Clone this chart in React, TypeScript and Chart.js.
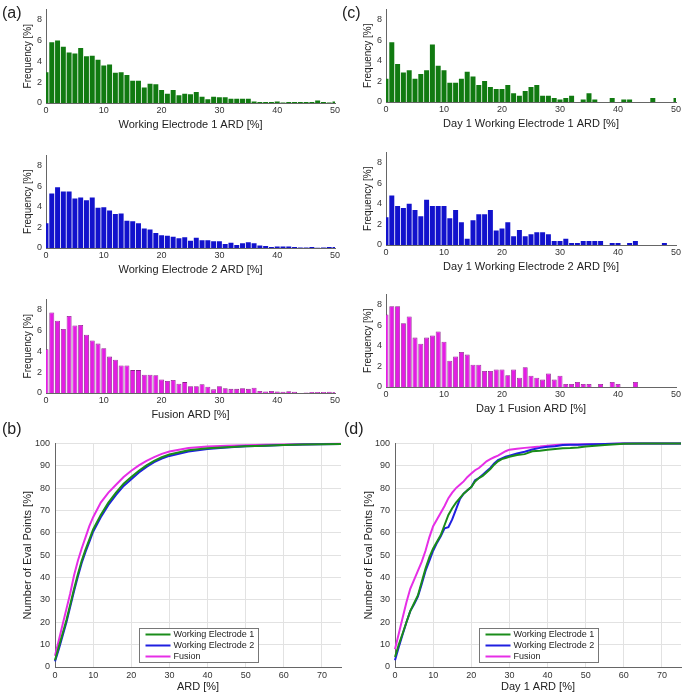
import React, { useEffect, useRef } from "react";
import { Chart, registerables } from "chart.js";

Chart.register(...registerables);
Chart.defaults.font.family = '"Liberation Sans", Arial, sans-serif';

// ---------- histogram data (bin centres 0..50 % ARD, frequency %) ----------
const binCenters = [0,1,2,3,4,5,6,7,8,9,10,11,12,13,14,15,16,17,18,19,20,21,22,23,24,25,26,27,28,29,30,31,32,33,34,35,36,37,38,39,40,41,42,43,44,45,46,47,48,49,50];

const histWE1 = [2.95,5.85,6.0,5.4,4.85,4.75,5.3,4.5,4.55,4.15,3.6,3.7,2.9,2.95,2.7,2.15,2.15,1.5,1.85,1.8,1.25,0.9,1.25,0.75,0.9,0.85,1.05,0.6,0.35,0.6,0.55,0.55,0.4,0.4,0.4,0.4,0.15,0.1,0.1,0.1,0.15,0.05,0.1,0.1,0.1,0.1,0.1,0.25,0.1,0.05,0.15];
const histWE2 = [2.4,5.3,5.9,5.5,5.5,4.8,4.9,4.65,4.9,3.9,3.95,3.65,3.3,3.35,2.65,2.6,2.4,1.9,1.8,1.45,1.25,1.2,1.1,0.95,1.05,0.7,1.0,0.75,0.75,0.65,0.65,0.4,0.5,0.3,0.45,0.55,0.45,0.25,0.2,0.1,0.15,0.15,0.15,0.1,0.05,0.05,0.1,0.03,0.05,0.1,0.1];
const histFusion = [4.2,7.75,6.95,6.15,7.4,6.5,6.55,5.6,5.05,4.75,4.3,3.5,3.2,2.65,2.65,2.2,2.2,1.75,1.75,1.7,1.3,1.15,1.25,0.9,1.05,0.65,0.65,0.85,0.6,0.35,0.65,0.45,0.4,0.4,0.45,0.4,0.5,0.2,0.15,0.2,0.15,0.12,0.18,0.12,0,0.06,0.1,0.1,0.1,0.12,0.1];
const histDay1WE1 = [2.27,5.8,3.7,2.87,3.08,2.27,2.72,3.08,5.59,3.53,3.08,1.87,1.87,2.27,2.93,2.48,1.66,2.05,1.45,1.27,1.27,1.66,0.85,0.6,1.06,1.45,1.66,0.6,0.6,0.4,0.24,0.4,0.6,0,0.24,0.85,0.24,0,0,0.4,0,0.24,0.24,0,0,0,0.4,0,0,0,0.4];
const histDay1WE2 = [2.7,4.8,3.8,3.6,4.0,3.4,2.8,4.4,3.8,3.8,3.8,2.6,3.4,2.2,0.6,2.4,3.0,3.0,3.4,1.4,1.6,2.2,0.85,1.45,0.85,1.05,1.25,1.25,1.05,0.4,0.4,0.6,0.2,0.2,0.4,0.4,0.4,0.4,0,0.2,0.2,0,0.2,0.4,0,0,0,0,0.2,0,0];
const histDay1Fusion = [7.05,7.85,7.85,6.2,6.85,4.8,4.2,4.8,5.0,5.4,4.4,2.55,2.97,3.4,3.15,2.16,2.16,1.56,1.56,1.7,1.7,1.14,1.7,0.9,1.92,1.1,0.9,0.72,1.32,0.72,1.1,0.3,0.3,0.48,0.3,0.3,0,0.3,0,0.48,0.3,0,0,0.48,0,0,0,0,0,0,0];

const histYTicks = [0, 2, 4, 6, 8];

// ---------- cumulative curves ----------
const cdfX = [0,1,2,3,4,5,6,7,8,9,10,12,14,16,18,20,22,24,26,28,30,35,40,45,50,55,60,65,70,75];
const cdfWE1 = [3,9,15,21,28,35,41.5,47.5,52.5,57,61.5,68,73.5,78,82,85,87.8,90.2,92.2,93.8,95,96.9,97.8,98.3,98.7,99,99.3,99.5,99.6,99.7];
const cdfWE2 = [2.5,8,14,20,27,34,40.5,46.5,51.5,56,60.5,67,72.5,77,81,84,87,89.5,91.6,93.2,94.4,96.4,97.5,98.2,98.7,99,99.3,99.5,99.6,99.7];
const cdfFusion = [5,12,19,26,33,41,47.5,53,58,63,67,73.5,78,81.5,85,87.8,90.2,92.2,93.9,95.3,96.4,97.9,98.6,98.9,99.2,99.4,99.5,99.6,99.7,99.8];

const day1X = [0,1,2,3,4,5,6,7,8,9,10,11,12,13,14,15,16,17,18,19,20,21,22,23,24,25,26,27,28,29,30,32,34,36,38,40,42,44,46,48,50,55,60,65,70,75];
const day1WE1 = [4.5,10,15,20,25,28.5,32,38,44,49,53,56,59,63.5,68,71,73.5,75.5,77.5,79,80.5,83,84.5,85.5,87,88.5,90.5,92,93,93.5,94,94.8,95.2,96.5,96.7,97.2,97.5,97.8,97.9,98.2,98.6,99.3,99.8,100,100,100];
const day1WE2 = [3,9,14.5,20,25,28,31.5,37,43,47.5,52,55.5,58.5,62,62.5,66,70.5,75,77.5,79,80.5,83.5,84.5,86,87.5,89,91,92.5,93.3,94,94.5,95.5,96.3,97.3,98,98.5,98.7,99.3,99.4,99.4,99.5,99.7,100,100,100,100];
const day1Fusion = [8,15,22,29,35,39,43,47,52,58,63,66,69,72,75.5,78,80,81.5,83,85,86.5,88,89,90.5,92,93,93.8,94.5,95.5,96.5,97.2,97.6,98,98.3,98.6,99,99.3,99.5,99.5,99.5,99.6,99.7,100,100,100,100];

const seriesLabels = ["Working Electrode 1", "Working Electrode 2", "Fusion"];

// ---------- styling ----------
const GREEN = "#117a11";
const BLUE = "#1212cc";
const MAGENTA = "#e41ce4";
const LINE_GREEN = "#1a8c1a";
const LINE_BLUE = "#1f1fe0";
const LINE_MAGENTA = "#e62ee6";
const TICK_COLOR = "#333";
const TITLE_COLOR = "#222";
const AXIS_COLOR = "#666";
const FONT = '"Liberation Sans", Arial, sans-serif';

function histConfig(values: number[], fill: string, border: string, bw: number, xTitle: string) {
  return {
    type: "bar",
    data: {
      datasets: [
        {
          data: binCenters.map((x, i) => ({ x, y: values[i] })),
          backgroundColor: fill,
          borderColor: border,
          borderWidth: bw,
          borderSkipped: "start",
          barPercentage: 0.86,
          categoryPercentage: 1,
          clip: 0,
        },
      ],
    },
    options: {
      responsive: false,
      animation: false,
      devicePixelRatio: 1,
      layout: { padding: { left: 0, top: 2, right: 8, bottom: 0 } },
      plugins: { legend: { display: false }, tooltip: { enabled: false } },
      scales: {
        x: {
          type: "linear",
          min: 0,
          max: 50,
          offset: false,
          grid: { display: false, drawTicks: false, offset: false },
          border: { display: true, color: AXIS_COLOR },
          ticks: { stepSize: 10, padding: 2, color: TICK_COLOR, font: { size: 9 }, maxRotation: 0 },
          title: { display: true, text: xTitle, color: TITLE_COLOR, font: { size: 11 }, padding: { top: 0, bottom: 1 } },
          afterFit: (s: any) => { s.height = 30; },
        },
        y: {
          min: 0,
          max: 9,
          grid: { display: false, drawTicks: false },
          border: { display: true, color: AXIS_COLOR },
          ticks: {
            padding: 4,
            color: TICK_COLOR,
            font: { size: 9 },
            includeBounds: false,
            stepSize: 2,
          },
          afterBuildTicks: (s: any) => { s.ticks = histYTicks.map((v) => ({ value: v })); },
          title: { display: true, text: "Frequency [%]", color: TITLE_COLOR, font: { size: 10 }, padding: { top: 7, bottom: 0 } },
          afterFit: (s: any) => { s.width = 31; },
        },
      },
    },
  };
}

const boxLegend = {
  id: "boxLegend",
  afterDraw(chart: any) {
    const { ctx, chartArea } = chart;
    const ds = chart.data.datasets;
    ctx.save();
    ctx.font = `9px ${FONT}`;
    const rowH = 11;
    const lineLen = 25;
    const tw = Math.max(...ds.map((d: any) => ctx.measureText(d.label).width));
    const w = Math.round(6 + lineLen + 3 + tw + 4);
    const h = 6 + rowH * (ds.length - 1) + 6;
    const cx = (chartArea.left + chartArea.right) / 2;
    const x0 = Math.round(cx - w / 2) + 0.5;
    const y0 = Math.round(chartArea.bottom - 5 - h) + 0.5;
    ctx.fillStyle = "#fff";
    ctx.fillRect(x0, y0, w, h);
    ctx.strokeStyle = "#777";
    ctx.lineWidth = 1;
    ctx.strokeRect(x0, y0, w, h);
    ds.forEach((d: any, i: number) => {
      const y = y0 + 6 + i * rowH;
      ctx.strokeStyle = d.borderColor;
      ctx.lineWidth = 2;
      ctx.beginPath();
      ctx.moveTo(x0 + 6, y);
      ctx.lineTo(x0 + 6 + lineLen, y);
      ctx.stroke();
      ctx.fillStyle = TITLE_COLOR;
      ctx.textBaseline = "middle";
      ctx.textAlign = "left";
      ctx.fillText(d.label, x0 + 6 + lineLen + 3, y + 0.5);
    });
    ctx.restore();
  },
};

function cdfConfig(xs: number[], a: number[], b: number[], c: number[], xTitle: string, axW: number, padR: number) {
  const mk = (label: string, ys: number[], color: string) => ({
    label,
    data: xs.map((x, i) => ({ x, y: ys[i] })),
    borderColor: color,
    backgroundColor: color,
    borderWidth: 2,
    pointRadius: 0,
    tension: 0,
    fill: false,
    clip: 2,
  });
  return {
    type: "line",
    data: {
      datasets: [
        mk(seriesLabels[0], a, LINE_GREEN),
        mk(seriesLabels[1], b, LINE_BLUE),
        mk(seriesLabels[2], c, LINE_MAGENTA),
      ],
    },
    options: {
      responsive: false,
      animation: false,
      devicePixelRatio: 1,
      layout: { padding: { left: 0, top: 8, right: padR, bottom: 0 } },
      plugins: { legend: { display: false }, tooltip: { enabled: false } },
      scales: {
        x: {
          type: "linear",
          min: 0,
          max: 75,
          grid: { color: "#e2e2e2", drawTicks: false },
          border: { display: true, color: AXIS_COLOR },
          ticks: { stepSize: 10, includeBounds: false, padding: 3, color: TICK_COLOR, font: { size: 9 }, maxRotation: 0 },
          title: { display: true, text: xTitle, color: TITLE_COLOR, font: { size: 11 }, padding: { top: 0, bottom: 0 } },
          afterFit: (s: any) => { s.height = 27; },
        },
        y: {
          min: 0,
          max: 100,
          grid: { color: "#e2e2e2", drawTicks: false },
          border: { display: true, color: AXIS_COLOR },
          ticks: { stepSize: 10, padding: 5, color: TICK_COLOR, font: { size: 9 } },
          title: { display: true, text: "Number of Eval Points [%]", color: TITLE_COLOR, font: { size: 11 }, padding: { top: 6, bottom: 0 } },
          afterFit: (s: any) => { s.width = axW; },
        },
      },
    },
    plugins: [boxLegend],
  };
}

type PanelProps = { left: number; top: number; width: number; height: number; config: any };

function Panel({ left, top, width, height, config }: PanelProps) {
  const ref = useRef<HTMLCanvasElement>(null);
  useEffect(() => {
    const chart = new Chart(ref.current as HTMLCanvasElement, config);
    return () => chart.destroy();
  }, []);
  return (
    <canvas
      ref={ref}
      width={width}
      height={height}
      style={{ position: "absolute", left, top, width, height, display: "block" }}
    />
  );
}

const letterStyle = (left: number, top: number): React.CSSProperties => ({
  position: "absolute",
  left,
  top,
  fontFamily: FONT,
  fontSize: 16,
  lineHeight: "18px",
  color: TITLE_COLOR,
});

export default function App() {
  return (
    <div
      style={{
        position: "fixed",
        left: 0,
        top: 0,
        width: 684,
        height: 694,
        overflow: "hidden",
        background: "#fff",
      }}
    >
      <Panel left={15} top={0} width={328} height={133} config={histConfig(histWE1, GREEN, "rgba(255,255,255,0.35)", 0, "Working Electrode 1 ARD [%]")} />
      <Panel left={15} top={146} width={328} height={132} config={histConfig(histWE2, BLUE, "rgba(255,255,255,0.35)", 0, "Working Electrode 2 ARD [%]")} />
      <Panel left={15} top={290} width={328} height={133} config={histConfig(histFusion, MAGENTA, "#8a1f8a", 0.8, "Fusion ARD [%]")} />

      <Panel left={355} top={0} width={329} height={132} config={histConfig(histDay1WE1, GREEN, "rgba(255,255,255,0.35)", 0, "Day 1 Working Electrode 1 ARD [%]")} />
      <Panel left={355} top={143} width={329} height={132} config={histConfig(histDay1WE2, BLUE, "rgba(255,255,255,0.35)", 0, "Day 1 Working Electrode 2 ARD [%]")} />
      <Panel left={355} top={285} width={329} height={132} config={histConfig(histDay1Fusion, MAGENTA, "#8a1f8a", 0.8, "Day 1 Fusion ARD [%]")} />

      <Panel left={15} top={433} width={327} height={261} config={cdfConfig(cdfX, cdfWE1, cdfWE2, cdfFusion, "ARD [%]", 40, 1)} />
      <Panel left={356} top={433} width={327} height={261} config={cdfConfig(day1X, day1WE1, day1WE2, day1Fusion, "Day 1 ARD [%]", 39, 2)} />

      <div style={letterStyle(2, 4)}>(a)</div>
      <div style={letterStyle(342, 4)}>(c)</div>
      <div style={letterStyle(2, 420)}>(b)</div>
      <div style={letterStyle(344, 420)}>(d)</div>
    </div>
  );
}
